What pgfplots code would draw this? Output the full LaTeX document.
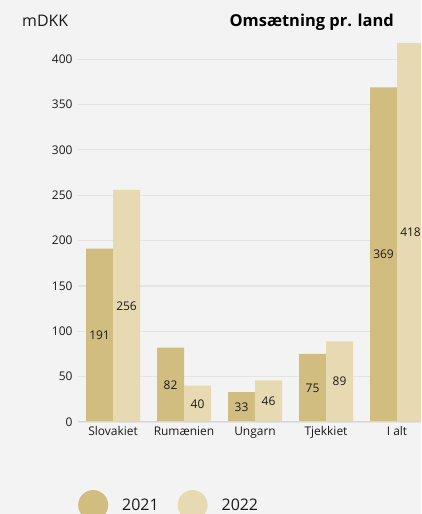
\documentclass[border=0pt]{standalone}
\usepackage{pgfplots}
\pgfplotsset{compat=1.18}
\usepackage{fontspec}
\setmainfont{Open Sans}
\definecolor{bg}{HTML}{F3F3F3}
\definecolor{cA}{HTML}{D2BD80}
\definecolor{cB}{HTML}{E7D9B1}
\definecolor{gridc}{HTML}{E4E4E4}
\definecolor{txt}{HTML}{1A1A1A}
\begin{document}
\begin{tikzpicture}[x=1bp,y=1bp]
\clip (0,0) rectangle (421,514);
\fill[bg] (0,0) rectangle (421,514);
\node[anchor=base west,font=\fontsize{16}{18}\selectfont,text=txt,inner sep=0pt] at (22,487) {mDKK};
\node[anchor=base east,font=\bfseries\fontsize{16.5}{18}\selectfont,text=black,inner sep=0pt] at (394,487) {Omsætning pr. land};
\begin{axis}[
  at={(78bp,92bp)}, anchor=south west,
  scale only axis, width=343bp, height=381bp,
  xmin=-0.493, xmax=4.338, ymin=0, ymax=420,
  axis line style={draw=none},
  ybar, bar width=27bp,
  xtick={0,1,2,3,4},
  xticklabels={Slovakiet,Rumænien,Ungarn,Tjekkiet,I alt},
  ytick={0,50,...,400},
  major tick length=0pt,
  xmajorgrids=false, ymajorgrids=true,
  major grid style={draw=gridc, line width=1.2bp},
  tick label style={font=\fontsize{12}{14}\selectfont, text=txt},
  /pgf/number format/assume math mode=true,
  yticklabel style={xshift=-2bp},
  xticklabel style={yshift=-1bp},
  clip=true,
  nodes near coords,
  visualization depends on={y \as \rawy},
  every node near coord/.append style={font=\fontsize{12}{14}\selectfont, text=txt, anchor=center, shift={(axis direction cs:0,-\rawy/2)}},
  legend columns=2,
  legend style={draw=none, fill=none, at={(axis description cs:0.0,-0.218)}, anchor=west, inner sep=0pt,
    font=\fontsize{16}{18}\selectfont, text=txt,
    /tikz/every odd column/.append style={column sep=12bp},
    /tikz/every even column/.append style={column sep=17bp}},
  legend image code/.code={\fill (15bp,0bp) circle (15bp);},
]
\addplot[fill=cA, draw=none, bar shift=-13.5bp] coordinates {(0,191) (1,82) (2,33) (3,75) (4,369)};
\addplot[fill=cB, draw=none, bar shift=13.5bp] coordinates {(0,256) (1,40) (2,46) (3,89) (4,418)};
\legend{2021,2022}
\draw[gridc!85!gray, line width=1.2bp] (rel axis cs:0,0) -- (rel axis cs:1,0);
\end{axis}
\end{tikzpicture}
\end{document}
